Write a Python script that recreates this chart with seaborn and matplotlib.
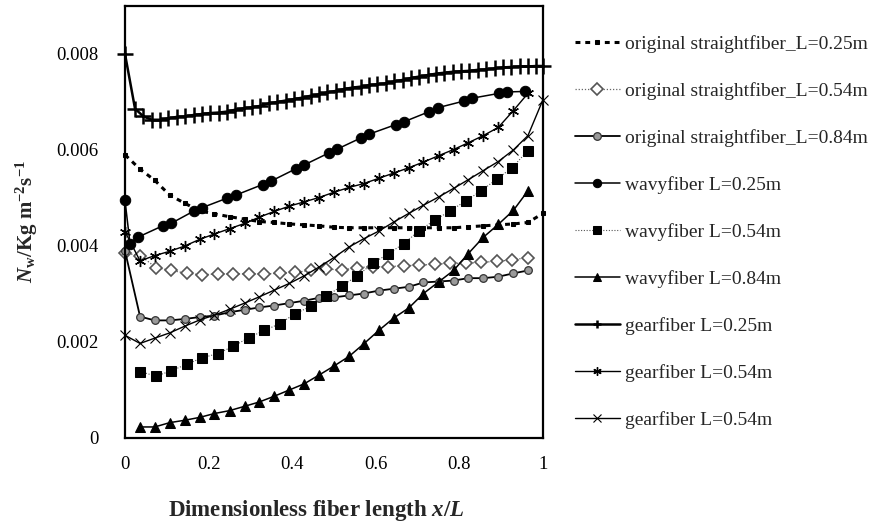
import matplotlib
matplotlib.use("Agg")
import matplotlib.pyplot as plt
import seaborn as sns
import numpy as np
import pandas as pd

# ---------------- data ----------------
X28 = [0.0, 0.036, 0.071, 0.107, 0.143, 0.179, 0.214, 0.25, 0.286, 0.321, 0.357, 0.393,
       0.429, 0.464, 0.5, 0.536, 0.571, 0.607, 0.643, 0.679, 0.714, 0.75, 0.786, 0.821,
       0.857, 0.893, 0.929, 0.964, 1.0]
X27 = [0.0, 0.037, 0.074, 0.111, 0.148, 0.185, 0.222, 0.259, 0.296, 0.333, 0.37, 0.407,
       0.444, 0.481, 0.519, 0.556, 0.593, 0.63, 0.667, 0.704, 0.741, 0.778, 0.815, 0.852,
       0.889, 0.926, 0.963]

straight_025 = [0.00590, 0.00560, 0.00537, 0.00506, 0.00489, 0.00473, 0.00467, 0.00461,
                0.00456, 0.00451, 0.00449, 0.00446, 0.00444, 0.00442, 0.00439, 0.00438,
                0.00438, 0.00438, 0.00438, 0.00438, 0.00438, 0.00438, 0.00438, 0.00440,
                0.00442, 0.00444, 0.00446, 0.00449, 0.00468]
straight_054 = [0.00385, 0.00380, 0.00355, 0.00349, 0.00343, 0.00340, 0.00342, 0.00342,
                0.00342, 0.00342, 0.00343, 0.00345, 0.00349, 0.00352, 0.00350, 0.00355,
                0.00357, 0.00357, 0.00359, 0.00360, 0.00362, 0.00364, 0.00364, 0.00366,
                0.00368, 0.00371, 0.00376]
straight_084 = [0.00390, 0.00253, 0.00245, 0.00245, 0.00248, 0.00252, 0.00255, 0.00262,
                0.00267, 0.00272, 0.00276, 0.00281, 0.00286, 0.00292, 0.00293, 0.00297,
                0.00301, 0.00307, 0.00311, 0.00315, 0.00324, 0.00326, 0.00328, 0.00333,
                0.00333, 0.00336, 0.00343, 0.00349]

wavy025_x = [0.0, 0.012, 0.03, 0.09, 0.11, 0.165, 0.185, 0.245, 0.265, 0.329, 0.349, 0.409,
             0.429, 0.488, 0.508, 0.564, 0.584, 0.648, 0.668, 0.728, 0.748, 0.811, 0.831,
             0.895, 0.915, 0.957]
wavy_025 = [0.00495, 0.00405, 0.00418, 0.00442, 0.00447, 0.00473, 0.00480, 0.00500, 0.00506,
            0.00528, 0.00535, 0.00561, 0.00569, 0.00594, 0.00602, 0.00625, 0.00633, 0.00653,
            0.00659, 0.00680, 0.00688, 0.00702, 0.00708, 0.00718, 0.00721, 0.00722]
wavy_054 = [0.00138, 0.00129, 0.00140, 0.00154, 0.00167, 0.00176, 0.00191, 0.00209,
            0.00224, 0.00238, 0.00259, 0.00274, 0.00295, 0.00317, 0.00338, 0.00364,
            0.00384, 0.00405, 0.00432, 0.00454, 0.00473, 0.00494, 0.00515, 0.00539,
            0.00563, 0.00598]
wavy_084 = [0.00023, 0.00023, 0.00032, 0.00037, 0.00043, 0.00051, 0.00057, 0.00066,
            0.00075, 0.00087, 0.00100, 0.00113, 0.00131, 0.00150, 0.00170, 0.00196,
            0.00224, 0.00250, 0.00271, 0.00301, 0.00325, 0.00349, 0.00384, 0.00418,
            0.00445, 0.00474, 0.00515]

gear025_x = [0.0, 0.024, 0.044, 0.064, 0.084, 0.104, 0.124, 0.144, 0.164, 0.184, 0.204,
             0.224, 0.244, 0.264, 0.284, 0.304, 0.324, 0.344, 0.364, 0.384, 0.404, 0.424,
             0.444, 0.464, 0.484, 0.504, 0.524, 0.544, 0.564, 0.584, 0.604, 0.624, 0.644,
             0.664, 0.684, 0.704, 0.724, 0.744, 0.764, 0.784, 0.804, 0.824, 0.844, 0.864,
             0.884, 0.904, 0.924, 0.944, 0.964, 0.984, 1.0]
gear_025 = [0.00800, 0.00686, 0.00670, 0.00663, 0.00663, 0.00666, 0.00669, 0.00670, 0.00673,
            0.00675, 0.00677, 0.00678, 0.00680, 0.00684, 0.00687, 0.00689, 0.00692, 0.00697,
            0.00700, 0.00703, 0.00706, 0.00709, 0.00713, 0.00716, 0.00720, 0.00723, 0.00727,
            0.00730, 0.00732, 0.00735, 0.00737, 0.00739, 0.00743, 0.00746, 0.00750, 0.00753,
            0.00756, 0.00759, 0.00761, 0.00763, 0.00764, 0.00765, 0.00767, 0.00768, 0.00770,
            0.00772, 0.00773, 0.00774, 0.00774, 0.00775, 0.00775]
gear_054a = [0.00430, 0.00369, 0.00380, 0.00389, 0.00400, 0.00414, 0.00425, 0.00436,
             0.00447, 0.00460, 0.00472, 0.00483, 0.00492, 0.00501, 0.00512, 0.00522,
             0.00530, 0.00541, 0.00552, 0.00563, 0.00575, 0.00588, 0.00601, 0.00615,
             0.00630, 0.00647, 0.00682, 0.00718]
gear_054b = [0.00214, 0.00197, 0.00208, 0.00219, 0.00233, 0.00246, 0.00256, 0.00268,
             0.00281, 0.00294, 0.00308, 0.00322, 0.00338, 0.00356, 0.00376, 0.00398,
             0.00415, 0.00431, 0.00450, 0.00468, 0.00485, 0.00502, 0.00520, 0.00538,
             0.00557, 0.00576, 0.00600, 0.00630, 0.00705]

labels = ["original straightfiber_L=0.25m", "original straightfiber_L=0.54m",
          "original straightfiber_L=0.84m", "wavyfiber L=0.25m", "wavyfiber L=0.54m",
          "wavyfiber L=0.84m", "gearfiber L=0.25m", "gearfiber L=0.54m", "gearfiber L=0.54m"]
x_ticks = [0, 0.2, 0.4, 0.6, 0.8, 1]
x_ticklabels = ["0", "0.2", "0.4", "0.6", "0.8", "1"]
y_ticks = [0, 0.002, 0.004, 0.006, 0.008]
y_ticklabels = ["0", "0.002", "0.004", "0.006", "0.008"]

# ---------------- style ----------------
sns.set_style("white")
plt.rcParams["font.family"] = ["Liberation Serif", "DejaVu Serif"]
plt.rcParams["mathtext.fontset"] = "custom"
plt.rcParams["mathtext.rm"] = "Liberation Serif:bold"
plt.rcParams["mathtext.bf"] = "Liberation Serif:bold"
plt.rcParams["mathtext.it"] = "Liberation Serif:italic:bold"

fig = plt.figure(figsize=(8.82, 5.27), dpi=100)
ax = fig.add_axes([125 / 882, 1 - 438 / 527, 418 / 882, 432 / 527])

K = "black"
series = [
    (X28, straight_025, dict(color=K, linestyle=(0, (1.6, 1.6)), linewidth=2.2,
                             marker="s", markersize=2.5, markerfacecolor=K,
                             markeredgecolor=K)),
    (X27, straight_054, dict(color="#666666", linestyle=(0, (1, 1.5)), linewidth=0.9,
                             marker="D", markersize=6, markerfacecolor="white",
                             markeredgecolor="#555555", markeredgewidth=1.2)),
    (X28[:28], straight_084, dict(color=K, linestyle="-", linewidth=1.3,
                                  marker="o", markersize=5.5, markerfacecolor="#9a9a9a",
                                  markeredgecolor="#333333", markeredgewidth=0.9)),
    (wavy025_x, wavy_025, dict(color=K, linestyle="-", linewidth=1.1,
                               marker="o", markersize=7.5, markerfacecolor=K,
                               markeredgecolor=K)),
    (X27[1:], wavy_054, dict(color="#555555", linestyle=(0, (1, 1.5)), linewidth=0.8,
                             marker="s", markersize=6.5, markerfacecolor=K,
                             markeredgecolor=K)),
    (X28[1:28], wavy_084, dict(color=K, linestyle="-", linewidth=1.1,
                               marker="^", markersize=6.5, markerfacecolor=K,
                               markeredgecolor=K)),
    (gear025_x, gear_025, dict(color=K, linestyle="-", linewidth=1.8,
                               marker="+", markersize=11, markeredgewidth=1.8,
                               markeredgecolor=K)),
    (X28[:28], gear_054a, dict(color=K, linestyle="-", linewidth=1.0,
                               marker=(6, 2, 0), markersize=8, markeredgewidth=1.0,
                               markeredgecolor=K)),
    (X28, gear_054b, dict(color=K, linestyle="-", linewidth=1.0,
                          marker="x", markersize=6.5, markeredgewidth=0.8,
                          markeredgecolor=K)),
]

for (xs, ys, kw), lab in zip(series, labels):
    df = pd.DataFrame({"x": xs, "y": ys})
    sns.lineplot(data=df, x="x", y="y", ax=ax, sort=False, estimator=None,
                 label=lab, clip_on=False, **kw)

ax.set_xlim(0, 1)
ax.set_ylim(0, 0.009)
ax.set_xticks(x_ticks)
ax.set_xticklabels(x_ticklabels)
ax.set_yticks(y_ticks)
ax.set_yticklabels(y_ticklabels)
ax.tick_params(axis="both", length=0, labelsize=13.5, colors="black")
ax.tick_params(axis="y", pad=19)
ax.tick_params(axis="x", pad=13)
for s in ax.spines.values():
    s.set_color("black")
    s.set_linewidth(1.6)

ax.set_xlabel("Dimensionless fiber length $x/L$", fontsize=16.5, fontweight="bold")
ax.xaxis.set_label_coords(0.457, -0.167)
ax.xaxis.label.set_verticalalignment("center")
ax.set_ylabel(r"$\mathit{N}_{\mathbf{w}}$/Kg m$^{\mathbf{-2}}$s$^{\mathbf{-1}}$",
              fontsize=15, fontweight="bold", labelpad=12)

leg = ax.legend(loc="upper left", bbox_to_anchor=(575 / 882, 1 - 35 / 527),
                bbox_transform=fig.transFigure, frameon=False, fontsize=14,
                borderpad=0, borderaxespad=0, handlelength=2.3, handletextpad=0.26,
                labelspacing=1.5)
for line in leg.get_lines():
    line.set_markersize(min(line.get_markersize(), 6))

fig.savefig("out.png", dpi=100)
